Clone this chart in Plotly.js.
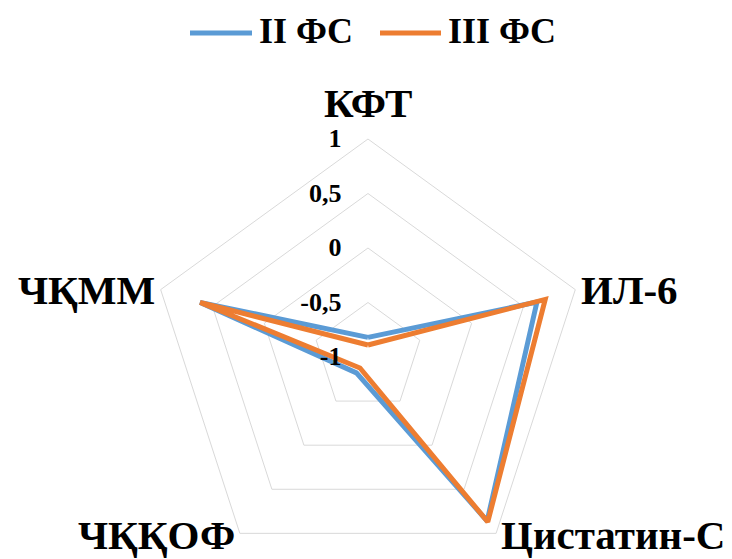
<!DOCTYPE html>
<html><head><meta charset="utf-8">
<script src="https://cdn.plot.ly/plotly-3.0.1.min.js"></script>
<style>html,body{margin:0;padding:0;overflow:hidden;background:#fff}</style>
</head><body>
<div id="chart" style="width:732px;height:600px"></div>
<script>
const categories = ['КФТ', 'ИЛ-6', 'Цистатин-С', 'ЧҚҚОФ', 'ЧҚММ'];
const seriesNames = ['II ФС', 'III ФС'];
const seriesII = [-0.82, 0.63, 0.86, -0.82, 0.62];
const seriesIII = [-0.89, 0.71, 0.87, -0.875, 0.62];
const radialTickVals = [-1, -0.5, 0, 0.5, 1];
const radialTickText = ['-1', '-0,5', '0', '0,5', '1'];

const closeLoop = a => a.concat([a[0]]);
const colors = ['#5B9BD5', '#ED7D31'];
const serif = 'Liberation Serif, Times New Roman, serif';
const H = 600;
const py = p => 1 - p / H;   // pixel-from-top -> paper y
const px = p => p / 732;

const traces = [seriesII, seriesIII].map((vals, i) => ({
  type: 'scatterpolar',
  r: closeLoop(vals),
  theta: closeLoop(categories),
  mode: 'lines',
  name: seriesNames[i],
  line: {color: colors[i], width: 5, shape: 'linear'},
  hoverinfo: 'skip',
  showlegend: false
}));

// category label placement (paper px) around the pentagon
const catPos = [
  {x: 368, y: 103, xa: 'center'},
  {x: 579, y: 290, xa: 'left'},
  {x: 499, y: 535, xa: 'left'},
  {x: 237, y: 535, xa: 'right'},
  {x: 157, y: 290, xa: 'right'}
];
const annotations = categories.map((c, i) => ({
  xref: 'paper', yref: 'paper', x: px(catPos[i].x), y: py(catPos[i].y),
  xanchor: catPos[i].xa, yanchor: 'middle', showarrow: false, text: c,
  font: {family: serif, size: 41, color: '#000', weight: 'bold'}
}));

// custom legend (long line samples like the reference)
const legLines = [[190, 252], [380, 441]];
const legTextX = [257, 446];
const shapes = [];
seriesNames.forEach((n, i) => {
  shapes.push({type: 'line', xref: 'paper', yref: 'paper',
    x0: px(legLines[i][0]), x1: px(legLines[i][1]), y0: py(33), y1: py(33),
    line: {color: colors[i], width: 5}});
  annotations.push({xref: 'paper', yref: 'paper', x: px(legTextX[i]), y: py(31),
    xanchor: 'left', yanchor: 'middle', showarrow: false, text: n,
    font: {family: serif, size: 36, color: '#000', weight: 'bold'}});
});

const layout = {
  width: 732, height: H,
  margin: {l: 0, r: 0, t: 0, b: 0},
  paper_bgcolor: '#fff',
  showlegend: false,
  annotations, shapes,
  polar: {
    domain: {x: [0.2049, 0.8005], y: [0.0417, 0.7683]},
    gridshape: 'linear',
    bgcolor: '#fff',
    radialaxis: {
      range: [-1, 1], tickvals: radialTickVals, ticktext: radialTickText,
      angle: 90, tickangle: 90, showline: false, gridcolor: '#D9D9D9', gridwidth: 1,
      ticks: 'outside', ticklen: 17, tickcolor: 'rgba(0,0,0,0)',
      side: 'counterclockwise',
      tickfont: {family: serif, size: 26, color: '#000', weight: 'bold'}
    },
    angularaxis: {
      rotation: 90, direction: 'clockwise', showgrid: false,
      showline: true, linecolor: '#D9D9D9', linewidth: 1, ticks: '',
      showticklabels: false
    }
  }
};

Plotly.newPlot('chart', traces, layout, {staticPlot: true});
</script>
</body></html>
